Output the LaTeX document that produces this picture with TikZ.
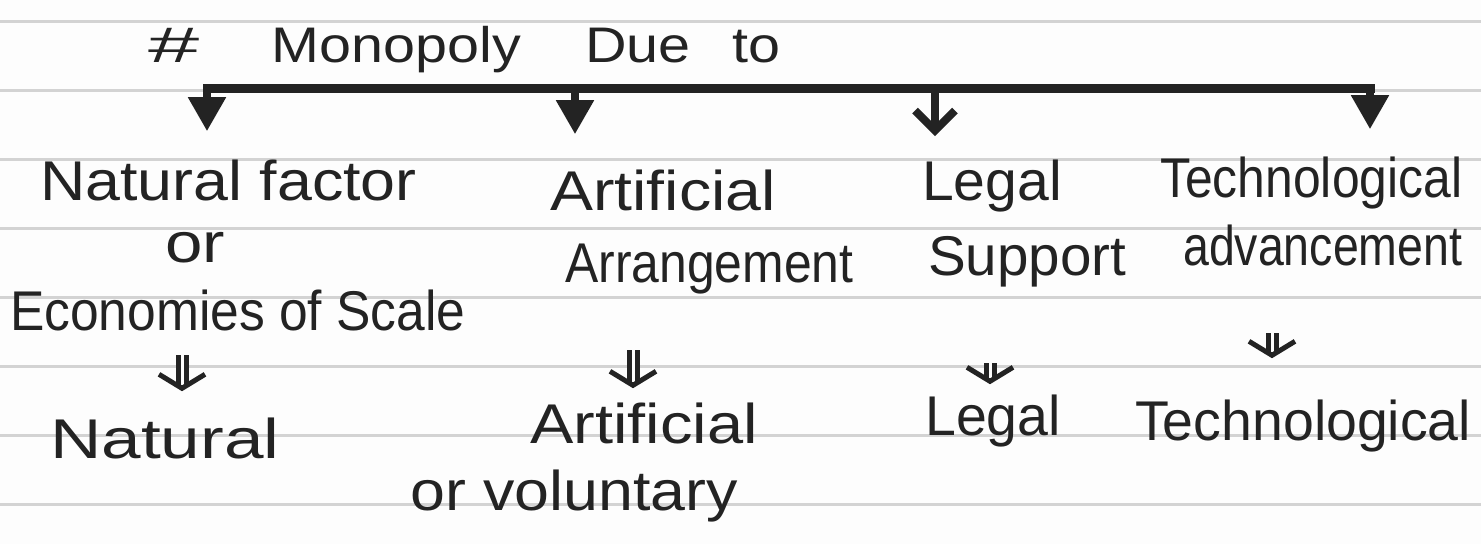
\documentclass[tikz,border=0pt]{standalone}
\usepackage{fontspec}
\setmainfont{Liberation Sans}
\usetikzlibrary{arrows.meta, positioning}
\definecolor{ink}{HTML}{232323}
\definecolor{ruling}{HTML}{D3D3D3}
\definecolor{paper}{HTML}{FDFDFD}

\begin{document}
\begin{tikzpicture}[x=1pt,y=-1pt,
  hand/.style={inner sep=0pt,anchor=base west,text=ink,font=\fontsize{56}{62}\selectfont},
  bus/.style={draw=ink,line width=9pt,line cap=rect},
  branch/.style={draw=ink,line width=8pt,-{Triangle[width=36pt,length=34pt]}},
  openbranch/.style={draw=ink,line width=8pt,-{Straight Barb[width=40pt,length=20pt]}},
  imp/.style={draw=ink,line width=5pt,double=paper,double distance=3pt,
    -{Straight Barb[width=46pt,length=14pt,line width=5pt]}}]

  % paper and ruling
  \fill[paper] (0,0) rectangle (1481,544);
  \useasboundingbox (0,0) rectangle (1481,544);
  \foreach \y in {21,90,...,504}
    \draw[ruling,line width=3pt] (0,\y) -- (1481,\y);

  % title
  \node[hand,font=\fontsize{50}{56}\selectfont] (title) at (148,62)
    {\scalebox{1.15}[1]{\scalebox{1.6}[1]{\#}\hspace{63pt}Monopoly\hspace{56pt}Due\hspace{36pt}to}};

  % first row
  \node[hand] (nf) at (40,200) {\scalebox{1.12}[1]{Natural factor}};
  \node[hand] (or1) at (165,262) {\scalebox{1.2}[1]{or}};
  \node[hand] (eos) at (10,330) {\scalebox{0.92}[1]{Economies of Scale}};
  \node[hand] (art) at (550,210) {\scalebox{1.15}[1]{Artificial}};
  \node[hand] (arr) at (565,282) {\scalebox{0.89}[1]{Arrangement}};
  \node[hand] (leg) at (922,200) {\scalebox{1.02}[1]{Legal}};
  \node[hand] (sup) at (928,275) {\scalebox{1.01}[1]{Support}};
  \node[hand] (tech) at (1160,197) {\scalebox{0.89}[1]{Technological}};
  \node[hand] (adv) at (1183,265) {\scalebox{0.83}[1]{advancement}};

  % second row
  \node[hand] (nat) at (50,458) {\scalebox{1.27}[1]{Natural}};
  \node[hand] (art2) at (530,443) {\scalebox{1.16}[1]{Artificial}};
  \node[hand] (vol) at (410,510) {\scalebox{1.12}[1]{or voluntary}};
  \node[hand] (leg2) at (925,435) {\scalebox{0.99}[1]{Legal}};
  \node[hand] (tech2) at (1135,440) {\scalebox{0.99}[1]{Technological}};

  % bus and branches
  \coordinate (b1) at (207,88);
  \coordinate (b2) at (575,88);
  \coordinate (b3) at (935,88);
  \coordinate (b4) at (1370,88);
  \draw[bus] (b1) -- (b4);
  \draw[branch,shorten >=28pt] (b1) -- (nf.north -| b1);
  \draw[branch,shorten >=35pt] (b2) -- (art.north -| b2);
  \draw[openbranch,shorten >=23pt] (b3) -- (leg.north -| b3);
  \draw[branch,shorten >=27pt] (b4) -- (tech.north -| b4);

  % small arrows
  \coordinate (d1) at (182,355);
  \coordinate (d2) at (633,350);
  \coordinate (d3) at (990,363);
  \coordinate (d4) at (1272,333);
  \draw[imp,shorten >=26pt] (d1) -- (nat.north -| d1);
  \draw[imp,shorten >=14pt] (d2) -- (art2.north -| d2);
  \draw[imp,shorten >=10pt] (d3) -- (leg2.north -| d3);
  \draw[imp,shorten >=41pt] (d4) -- (tech2.north -| d4);
\end{tikzpicture}
\end{document}
